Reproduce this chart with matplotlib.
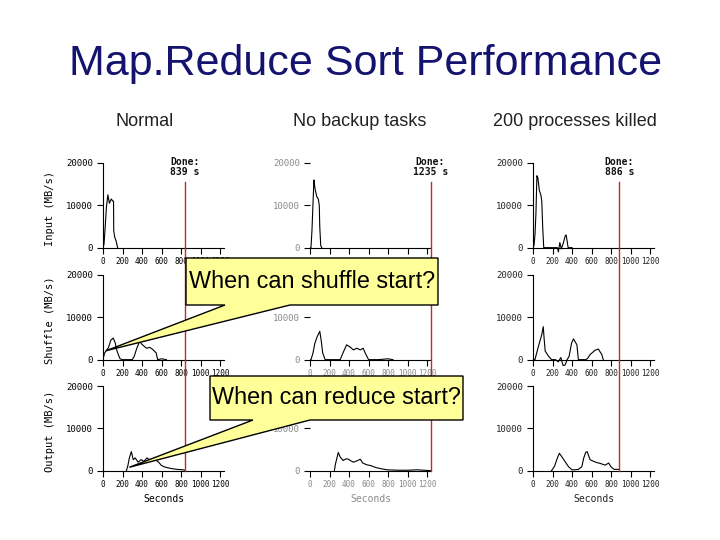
import matplotlib
matplotlib.use('Agg')
import matplotlib.pyplot as plt
from matplotlib.patches import Polygon
from matplotlib.lines import Line2D

W, H = 720, 540

col_titles = ['Normal', 'No backup tasks', '200 processes killed']
row_labels = ['Input (MB/s)', 'Shuffle (MB/s)', 'Output (MB/s)']
done_times = [839, 1235, 886]
x_ticks = [0, 200, 400, 600, 800, 1000, 1200]
y_ticks = [0, 10000, 20000]

# Normal run
normal_input_t = [0, 10, 20, 35, 50, 65, 85, 100, 108, 110, 120, 135, 150]
normal_input_v = [0, 800, 4000, 9500, 12500, 10500, 11500, 11000, 11000, 4000, 2500, 1500, 0]
normal_shuffle_t = [0, 15, 35, 55, 80, 105, 125, 140, 160, 175, 200, 250, 300, 320, 345, 375,
                    400, 420, 445, 480, 510, 545, 560, 600, 650]
normal_shuffle_v = [0, 1500, 2200, 2800, 4600, 5100, 4000, 2300, 1000, 200, 0, 0, 0, 800, 2600, 4300,
                    3600, 3200, 2700, 2900, 2400, 1600, 0, 200, 0]
normal_output_t = [240, 255, 270, 290, 310, 330, 360, 390, 420, 450, 480, 510, 540, 570, 600,
                   640, 700, 760, 820, 839]
normal_output_v = [0, 1200, 3000, 4500, 2600, 3000, 2000, 2600, 2200, 3000, 2600, 2400, 2500, 2000, 1200,
                   800, 500, 300, 200, 100]

# No backup tasks
nobackup_input_t = [0, 10, 20, 30, 40, 45, 55, 70, 85, 95, 100, 110, 120]
nobackup_input_v = [0, 0, 4000, 10000, 16000, 15000, 13500, 12000, 11500, 10000, 5000, 500, 0]
nobackup_shuffle_t = [0, 10, 30, 50, 75, 100, 115, 130, 155, 200, 280, 310, 340, 375, 410, 445,
                      480, 515, 545, 565, 600, 700, 800, 850]
nobackup_shuffle_v = [0, 0, 1500, 3900, 5500, 6700, 4500, 1600, 0, 0, 0, 0, 1700, 3500, 3000, 2300,
                      2700, 2300, 2700, 1600, 0, 0, 200, 0]
nobackup_output_t = [250, 260, 290, 310, 340, 370, 395, 420, 445, 480, 515, 540, 580, 620, 680,
                     740, 790, 900, 1000, 1100, 1235]
nobackup_output_v = [0, 1500, 4300, 3200, 2400, 2800, 2700, 2300, 2000, 2300, 2700, 1800, 1400, 1200, 700,
                     400, 200, 100, 100, 200, 0]

# 200 processes killed
killed_input_t = [0, 10, 20, 30, 40, 50, 65, 80, 90, 100, 110, 200, 250, 260, 275, 290, 310, 330,
                  340, 350, 360, 400]
killed_input_v = [0, 500, 3000, 8000, 17000, 16500, 13500, 12500, 11000, 4500, 0, 0, 0, -1000, 1200, -300,
                  1000, 2800, 3000, 1500, 0, 0]
killed_shuffle_t = [0, 20, 55, 90, 105, 115, 125, 160, 190, 230, 260, 285, 310, 330, 350, 370, 395,
                    415, 450, 465, 500, 540, 560, 585, 635, 670, 705, 720]
killed_shuffle_v = [0, 0, 3100, 5900, 7800, 4700, 2000, 800, 0, 0, -500, 500, -1500, -1200, 0, 800, 3900,
                    4900, 3500, 0, 0, 0, 300, 1200, 2200, 2500, 1200, 0]
killed_output_t = [190, 220, 250, 270, 295, 330, 365, 400, 430, 465, 500, 520, 540, 555, 585, 620,
                   655, 690, 740, 775, 800, 830, 886]
killed_output_v = [0, 1000, 3000, 4100, 3300, 2100, 900, 200, 200, 300, 900, 3000, 4300, 4500, 2600, 2200,
                   1900, 1700, 1300, 1800, 900, 300, 300]

series = [
    [(normal_input_t, normal_input_v), (nobackup_input_t, nobackup_input_v), (killed_input_t, killed_input_v)],
    [(normal_shuffle_t, normal_shuffle_v), (nobackup_shuffle_t, nobackup_shuffle_v),
     (killed_shuffle_t, killed_shuffle_v)],
    [(normal_output_t, normal_output_v), (nobackup_output_t, nobackup_output_v),
     (killed_output_t, killed_output_v)],
]

MONO = 'DejaVu Sans Mono'
SANS = 'Liberation Sans'

fig = plt.figure(figsize=(7.2, 5.4), dpi=100)


def fx(x):
    return x / W


def fy(y):
    return 1 - y / H


col_left = [103, 310, 533]
row_top = [163, 275, 386]
ax_w, ax_h = 121, 91
title_x = [145, 360, 575]
col_color = ['black', '#8a8a8a', '#222222']

axes = [[None] * 3 for _ in range(3)]
for r in range(3):
    for c in range(3):
        ax = fig.add_axes([fx(col_left[c]), fy(row_top[r] + ax_h), ax_w / W, ax_h / H])
        axes[r][c] = ax
        t, v = series[r][c]
        ax.plot(t, v, color='black', lw=0.8)
        ax.set_xlim(0, 1240)
        ax.set_ylim(-1500, 20000)
        ax.spines['top'].set_visible(False)
        ax.spines['right'].set_visible(False)
        ax.spines['bottom'].set_position(('data', 0))
        ax.spines['left'].set_bounds(0, 20000)
        if c == 1:
            ax.spines['left'].set_visible(False)
        ax.set_xticks(x_ticks)
        ax.set_yticks(y_ticks)
        xl = [str(x) for x in x_ticks]
        yl = [str(y) for y in y_ticks]
        # labels that sit fully under the yellow callouts
        if c == 1 and r == 0:
            xl = [''] * len(x_ticks)
        if c == 1 and r > 0:
            yl[-1] = ''
        ax.set_xticklabels(xl, fontsize=5.5, family=MONO, color=col_color[c])
        ax.set_yticklabels(yl, fontsize=6.5, family=MONO, color=col_color[c])
        ax.tick_params(axis='x', direction='out', length=4.3, width=0.8, pad=2.5)
        ax.tick_params(axis='y', direction='out', length=4.3, width=0.8, pad=3)
        ax.patch.set_alpha(0)
        if c == 0:
            ax.set_ylabel(row_labels[r], fontsize=7.5, family=MONO)
            ax.yaxis.set_label_coords(-0.40, 0.5)
        if r == 2:
            ax.set_xlabel('Seconds', fontsize=7, family=MONO, color=col_color[c])
            ax.xaxis.set_label_coords(0.5, -0.19)

for c in range(3):
    fig.text(fx(title_x[c]), fy(122), col_titles[c], fontsize=13, family=SANS,
             color='#222222', ha='center', va='center')
    axes[0][c].text(done_times[c], 19000, 'Done:\n%d s' % done_times[c], fontsize=7, family=MONO,
                    fontweight='bold', ha='center', va='center', linespacing=0.95, color='#111111')
    # red "done" marker spanning the three rows
    top = fig.transFigure.inverted().transform(axes[0][c].transData.transform((done_times[c], 15500)))
    bot = fig.transFigure.inverted().transform(axes[2][c].transData.transform((done_times[c], 0)))
    fig.add_artist(Line2D([top[0], bot[0]], [top[1], bot[1]], transform=fig.transFigure,
                          color='#c42a2a', lw=1.0, zorder=3))

fig.text(fx(366), fy(75), 'Map.Reduce Sort Performance', fontsize=31, family=SANS,
         color='#14146e', ha='center', va='baseline')


def callout(box, base, tip_ax, tip_data, text):
    x0, y0, x1, y1 = box
    b0, b1 = base
    tip = fig.transFigure.inverted().transform(tip_ax.transData.transform(tip_data))
    pts = [(fx(x0), fy(y0)), (fx(x1), fy(y0)), (fx(x1), fy(y1)), (fx(b1), fy(y1)),
           tuple(tip), (fx(b0), fy(y1)), (fx(x0), fy(y1))]
    fig.add_artist(Polygon(pts, closed=True, transform=fig.transFigure, facecolor='#ffff99',
                           edgecolor='black', lw=1.0, zorder=5))
    fig.text(fx((x0 + x1) / 2), fy((y0 + y1) / 2), text, fontsize=16.8, family=SANS,
             ha='center', va='center', zorder=6)


callout((186, 258, 438, 305), (225, 290), axes[1][0], (30, 2100), 'When can shuffle start?')
callout((210, 376, 463, 420), (253, 310), axes[2][0], (270, 800), 'When can reduce start?')

fig.savefig('out.png', dpi=100)
